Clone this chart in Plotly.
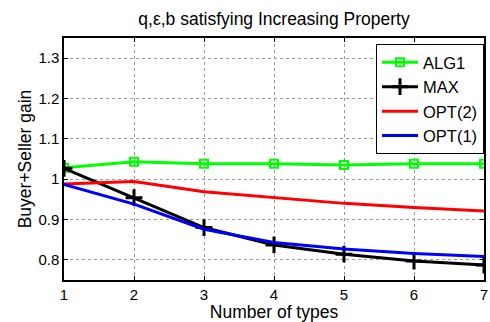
import plotly.graph_objects as go

x_types = [1, 2, 3, 4, 5, 6, 7]
alg1 = [1.028, 1.043, 1.038, 1.038, 1.035, 1.038, 1.038]
max_vals = [1.027, 0.954, 0.880, 0.837, 0.814, 0.797, 0.787]
opt2 = [0.988, 0.994, 0.969, 0.954, 0.940, 0.930, 0.921]
opt1 = [0.987, 0.938, 0.876, 0.843, 0.827, 0.816, 0.808]

y_ticks = [0.8, 0.9, 1.0, 1.1, 1.2, 1.3]
y_tick_text = ["0.8", "0.9", "1", "1.1", "1.2", "1.3"]

font_family = "Liberation Sans, Arial, sans-serif"

fig = go.Figure()
fig.add_trace(go.Scatter(x=x_types, y=alg1, name="ALG1", mode="lines+markers",
                         line=dict(color="#00ff00", width=3),
                         marker=dict(symbol="square-open", size=8, color="#00ff00",
                                     line=dict(width=2, color="#00ff00"))))
fig.add_trace(go.Scatter(x=x_types, y=max_vals, name="MAX", mode="lines+markers",
                         line=dict(color="black", width=3),
                         marker=dict(symbol="cross-thin", size=12, color="black",
                                     line=dict(width=3, color="black"))))
fig.add_trace(go.Scatter(x=x_types, y=opt2, name="OPT(2)", mode="lines",
                         line=dict(color="#ff0000", width=3)))
fig.add_trace(go.Scatter(x=x_types, y=opt1, name="OPT(1)", mode="lines",
                         line=dict(color="#0000ff", width=3)))

axis_common = dict(showline=True, linecolor="black", linewidth=1.5, mirror="ticks",
                   ticks="inside", ticklen=4, tickcolor="black",
                   showgrid=True, gridcolor="#999999", griddash="dot", gridwidth=1,
                   zeroline=False, ticklabeloverflow="allow",
                   tickfont=dict(size=15, color="black", family=font_family))

fig.update_layout(
    width=490, height=322,
    margin=dict(l=64, r=2, t=38, b=42),
    paper_bgcolor="white", plot_bgcolor="white",
    font=dict(family=font_family, color="black"),
    title=dict(text="q,ε,b satisfying Increasing Property", xref="paper", x=0.5,
               xanchor="center", yref="container", y=1 - 19 / 322, yanchor="middle",
               font=dict(size=17.5, color="black", family=font_family)),
    xaxis=dict(range=[1, 7], tickvals=x_types,
               title=dict(text="Number of types", font=dict(size=17.5), standoff=0),
               **axis_common),
    yaxis=dict(range=[0.75, 1.35], tickvals=y_ticks, ticktext=y_tick_text,
               title=dict(text="Buyer+Seller gain", font=dict(size=17.5), standoff=2),
               **axis_common),
    legend=dict(x=1, xanchor="right", y=1 - 6 / 242, yanchor="top",
                bgcolor="white", bordercolor="black", borderwidth=1,
                font=dict(size=16.5, color="black", family=font_family),
                tracegroupgap=0, itemwidth=36),
    showlegend=True,
)

fig.write_html("out.html")
